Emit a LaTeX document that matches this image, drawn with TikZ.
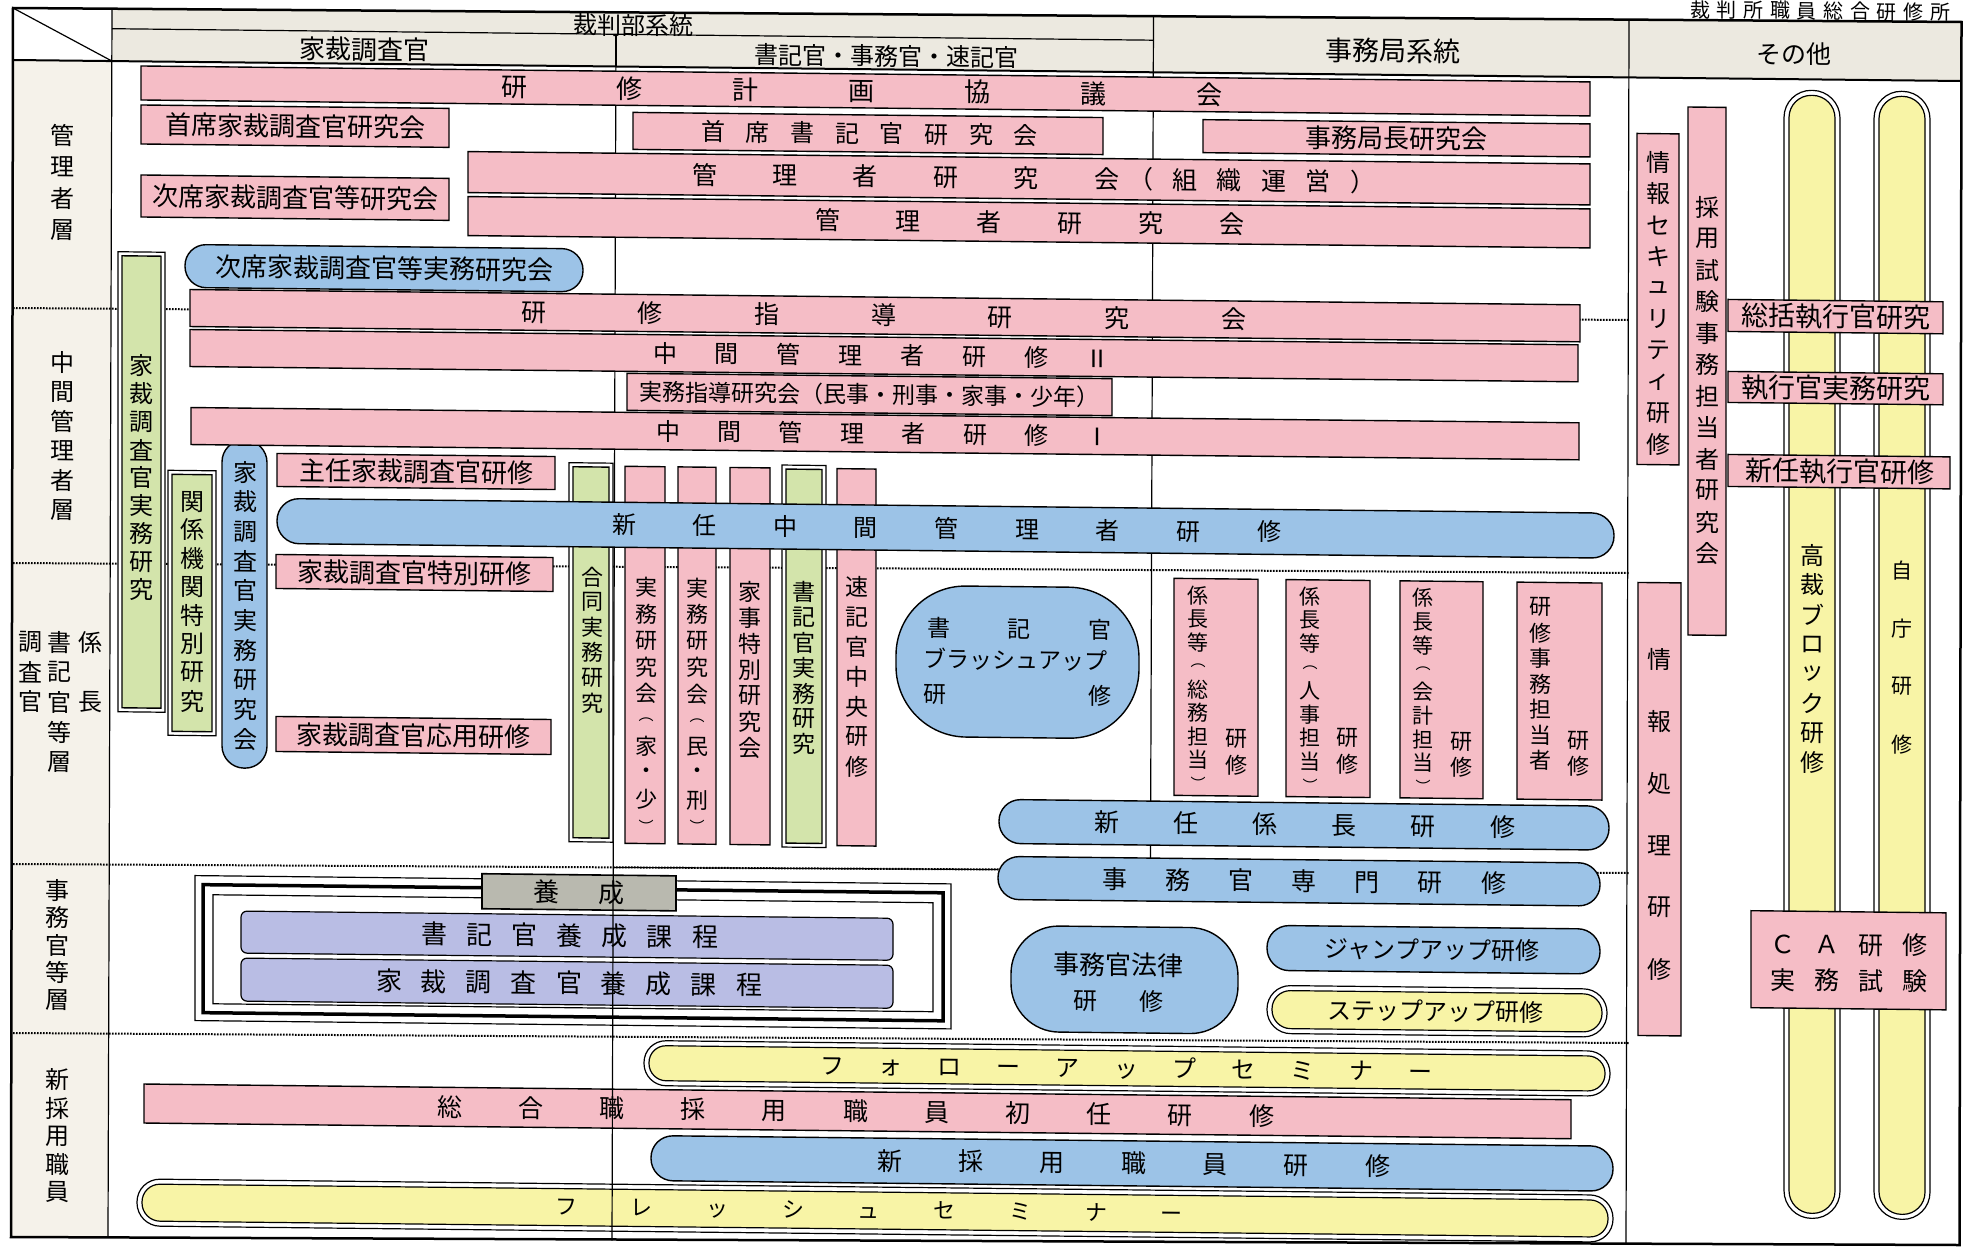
\documentclass[tikz,border=0pt]{standalone}
\usepackage{fontspec}
\newfontfamily\cjk{Noto Sans CJK JP}
\usetikzlibrary{fit}
\definecolor{pk}{HTML}{F5BDC6}
\definecolor{bl}{HTML}{9CC3E7}
\definecolor{gr}{HTML}{D3E4AB}
\definecolor{yl}{HTML}{F8F4A6}
\definecolor{lv}{HTML}{B9BDE4}
\definecolor{gy}{HTML}{B9B9AF}
\definecolor{hd}{HTML}{ECE9E0}
\definecolor{lc}{HTML}{F5F2EA}
\def\spfirst#1{#1\spaux}
\def\spaux#1{\ifx#1\relax\else\hfill#1\expandafter\spaux\fi}
\newcommand\spreadchars[1]{\spfirst#1\relax}
\newcommand\pfo{{\fontsize{15}{15}\selectfont ︵}}
\newcommand\pfc{{\fontsize{15}{15}\selectfont ︶}}
\newcommand\Sp[5]{\pgfmathsetmacro\sw{#2-#1}\node[font=\cjk\fontsize{#4}{#4}\selectfont] at ({(#1+#2)/2},#3) {\makebox[\sw pt][s]{\spreadchars{#5}}};}
\newcommand\Vt[5]{\foreach \vch [count=\vi from 0] in {#5} {\node[font=\cjk\fontsize{#4}{#4}\selectfont] at (#1,{#2+\vi*#3}) {\vch};}}
\newcommand\Tx[4]{\node[font=\cjk\fontsize{#3}{#3}\selectfont] at (#1,#2) {#4};}
\newcommand\Bx[6]{\node[#1,fit={(#3,#4)(#5,#6)}] (#2) {};}
\newcommand\Hp[6]{\pgfmathsetmacro\rr{0.49*(#6-#4)}\node[#1,rounded corners=\rr pt,fit={(#3,#4)(#5,#6)}] (#2) {};}
\newcommand\Vp[6]{\pgfmathsetmacro\rr{0.49*(#5-#3)}\node[#1,rounded corners=\rr pt,fit={(#3,#4)(#5,#6)}] (#2) {};}
\newcommand\Hpd[6]{\pgfmathsetmacro\rr{0.49*(#6-#4)}\node[dbl,rounded corners=\rr pt,fit={(#3,#4)(#5,#6)}] (#2) {};\pgfmathsetmacro\rr{0.49*(#6-#4)-5}\node[#1,rounded corners=\rr pt,fit={({#3+5},{#4+5})({#5-5},{#6-5})}] (#2i) {};}
\newcommand\Vpd[6]{\pgfmathsetmacro\rr{0.49*(#5-#3)}\node[dbl,rounded corners=\rr pt,fit={(#3,#4)(#5,#6)}] (#2) {};\pgfmathsetmacro\rr{0.49*(#5-#3)-5}\node[#1,rounded corners=\rr pt,fit={({#3+5},{#4+5})({#5-5},{#6-5})}] (#2i) {};}
\newcommand\Bxd[6]{\node[dbl,fit={(#3,#4)(#5,#6)}] (#2) {};\node[#1,fit={({#3+4},{#4+4})({#5-4},{#6-4})}] (#2i) {};}
\begin{document}
\begin{tikzpicture}[x=1pt,y=-1pt,line width=1.2pt,
  every node/.style={inner sep=0pt,outer sep=0pt},
  pkb/.style={draw,fill=pk,line width=1.4pt},
  blb/.style={draw,fill=bl,line width=1.4pt},
  grb/.style={draw,fill=gr,line width=1.4pt},
  ylb/.style={draw,fill=yl,line width=1.2pt},
  lvb/.style={draw,fill=lv,line width=1.2pt,rounded corners=6pt},
  gyb/.style={draw,fill=gy,line width=1.6pt},
  dbl/.style={draw,fill=white,line width=1.2pt},
  dots/.style={line width=2pt,dash pattern=on 1.6pt off 1.4pt}]
\useasboundingbox (0,0) rectangle (1965,1247);
\fill[white] (0,0) rectangle (1965,1247);
% frame corners (as scanned, slightly skewed)
\coordinate (TL) at (13,8);
\coordinate (TR) at (1961.5,22);
\coordinate (BR) at (1959.5,1245);
\coordinate (BL) at (11,1237);
\coordinate (hL) at (13,60);
\coordinate (hR) at (1961,81);
\fill[hd] (112,8.7) -- (TR) -- (hR) -- (112,61.1) -- cycle;
\fill[lc] (hL) -- (112,61.1) -- (108,1237.4) -- (BL) -- cycle;
% lines beneath boxes
\draw[dots] (13,308) -- (1629,320);
\draw[dots] (13,563) -- (1629,573);
\draw[dots] (13,864) -- (1629,873);
\draw[dots] (13,1033) -- (1629,1043);
\draw (616,34.3) -- (613.2,867);
\draw (1153.5,16.2) -- (1150.4,880);
\begin{scope}[transform canvas={yslant=-0.011,yshift=9.57pt}]
% header texts
\Tx{633}{28}{24}{裁判部系統}
\Tx{364}{55}{26}{家裁調査官}
\Tx{886}{56}{24}{書記官・事務官・速記官}
\Tx{1393}{45}{27}{事務局系統}
\Tx{1794}{44}{25}{その他}
\Sp{1690}{1950}{0.5}{20}{裁判所職員総合研修所}
% left labels
\Vt{62}{144}{31.7}{24}{管,理,者,層}
\Vt{62}{371}{29.6}{24}{中,間,管,理,者,層}
\Vt{90}{651}{60}{24}{係,長}
\Vt{59}{651}{30}{24}{書,記,官,等,層}
\Vt{30}{651}{30}{24}{調,査,官}
\Vt{57}{899}{27.5}{24}{事,務,官,等,層}
\Vt{57}{1089}{28}{24}{新,採,用,職,員}
% management layer
\Bx{pkb}{kk}{141}{74}{1590}{108}
\Sp{501}{1222}{91}{26}{研修計画協議会}
\Bx{pkb}{skc}{141}{113}{449}{152}
\Tx{295}{132.5}{26}{首席家裁調査官研究会}
\Bx{pkb}{ssk}{633}{115}{1103}{152}
\Sp{701}{1038}{133.5}{24}{首席書記官研究会}
\Bx{pkb}{jkc}{1203}{116}{1590}{149}
\Tx{1396}{132.5}{26}{事務局長研究会}
\Bx{pkb}{jkt}{141}{183}{449}{225}
\Tx{295}{204}{26}{次席家裁調査官等研究会}
\Bx{pkb}{kso}{468}{156}{1590}{197}
\Sp{692}{1119}{176.5}{25}{管理者研究会}
\Sp{1128}{1375}{176.5}{25}{（組織運営）}
\Bx{pkb}{kkk}{468}{201}{1590}{240}
\Sp{815}{1244}{220.5}{25}{管理者研究会}
\Hp{blb}{jjm}{185}{252}{583}{295}
\Tx{384}{273.5}{26}{次席家裁調査官等実務研究会}
% middle layer
\Bxd{grb}{gkj}{118}{260}{165}{720}
\Vt{141}{374}{28}{24}{家,裁,調,査,官,実,務,研,究}
\Bxd{grb}{gkt}{168}{478}{216}{743}
\Vt{192}{509}{28.5}{24}{関,係,機,関,特,別,研,究}
\Vp{blb}{bkj}{222}{447}{267}{775}
\Vt{245}{479}{29.7}{24}{家,裁,調,査,官,実,務,研,究,会}
\Bx{pkb}{ksd}{190}{297}{1580}{334}
\Sp{521}{1246}{315.5}{25}{研修指導研究会}
\Bx{pkb}{cm2}{190}{337}{1578}{374}
\Sp{653}{1110}{355.5}{24}{中間管理者研修Ⅱ}
\Bx{pkb}{jsd}{627}{376}{1112}{413}
\Tx{869.5}{394.5}{23}{実務指導研究会（民事・刑事・家事・少年）}
\Bx{pkb}{cm1}{191}{415}{1579}{452}
\Sp{656}{1110}{433.5}{24}{中間管理者研修Ⅰ}
\Bxd{grb}{gdj}{569}{466}{613}{845}
\Vt{592}{580}{25.2}{22}{合,同,実,務,研,究}
\Bx{pkb}{jk1}{625}{469}{665}{846}
\Vt{646}{590}{26.5}{22}{実,務,研,究,会,\pfo,家,・,少,\pfc}
\Bx{pkb}{jk2}{678}{469}{716}{846}
\Vt{697}{590}{26.5}{22}{実,務,研,究,会,\pfo,民,・,刑,\pfc}
\Bx{pkb}{kjt}{730}{469}{770}{846}
\Vt{750}{593}{26}{23}{家,事,特,別,研,究,会}
\Bxd{grb}{skj}{782}{466}{826}{848}
\Vt{804}{593}{25.3}{23}{書,記,官,実,務,研,究}
\Bx{pkb}{sok}{837}{469}{876}{846}
\Vt{857}{587}{30}{23}{速,記,官,中,央,研,修}
\Bx{pkb}{snk}{277}{460}{555}{493}
\Tx{416}{476.5}{26}{主任家裁調査官研修}
\Hp{blb}{scm}{277}{505}{1614}{550}
\Sp{612}{1281}{527.5}{24}{新任中間管理者研修}
% kakaricho layer
\Bx{pkb}{ktb}{276}{561}{553}{595}
\Tx{414.5}{578}{26}{家裁調査官特別研修}
\Bx{pkb}{kyo}{276}{723}{551}{758}
\Tx{413.5}{740.5}{26}{家裁調査官応用研修}
\node[draw,fill=bl,line width=1.4pt,rounded corners=70pt,fit={(896,585)(1139,736)}] (bru) {};
\Sp{927}{1111}{627}{23}{書記官}
\Sp{923}{1107}{658}{23}{ブラッシュアップ}
\Sp{923}{1111}{693}{23}{研修}
\Bx{pkb}{kc1}{1174}{575}{1258}{792}
\Vt{1198}{592}{23.5}{21}{係,長,等,\pfo,総,務,担,当,\pfc}
\Vt{1236}{735}{26}{22}{研,修}
\Bx{pkb}{kc2}{1286}{575}{1370}{792}
\Vt{1310}{592}{23.5}{21}{係,長,等,\pfo,人,事,担,当,\pfc}
\Vt{1347}{733}{26}{22}{研,修}
\Bx{pkb}{kc3}{1400}{575}{1483}{792}
\Vt{1423}{592}{23.5}{21}{係,長,等,\pfo,会,計,担,当,\pfc}
\Vt{1461}{735}{26}{22}{研,修}
\Bx{pkb}{kc4}{1517}{575}{1602}{792}
\Vt{1540}{600}{25.5}{22}{研,修,事,務,担,当,者}
\Vt{1578}{733}{25}{22}{研,修}
\Hp{blb}{skc2}{999}{798}{1609}{842}
\Sp{1094}{1515}{820}{25}{新任係長研修}
% jimukan layer
\Hp{blb}{jsm}{998}{855}{1600}{898}
\Sp{1102}{1506}{876.5}{25}{事務官専門研修}
\node[draw,fill=bl,line width=1.4pt,rounded corners=48pt,fit={(1011,924)(1238,1030)}] (jhr) {};
\Tx{1118}{962}{26}{事務官法律}
\Sp{1073}{1163}{998}{24}{研修}
\Hp{blb}{jmp}{1267}{921}{1600}{966}
\Tx{1432}{943.5}{24}{ジャンプアップ研修}
\Hpd{ylb}{stp}{1267}{981}{1607}{1029}
\Tx{1435}{1005}{24}{ステップアップ研修}
\draw[line width=1.2pt] (195,883) rectangle (951,1028);
\draw[line width=3.5pt] (203,892) rectangle (943,1020);
\draw[line width=1.2pt] (213,902) rectangle (933,1011);
\Bx{gyb}{yos}{482}{878}{676}{913}
\Sp{533}{625}{895.5}{26}{養成}
\Bx{lvb}{syk}{241}{918}{893}{960}
\Sp{421}{718}{939}{26}{書記官養成課程}
\Bx{lvb}{kyk}{241}{965}{893}{1008}
\Sp{376}{762}{986.5}{26}{家裁調査官養成課程}
% new recruits
\Hpd{ylb}{fol}{644}{1043}{1610}{1088}
\Sp{820}{1432}{1065.5}{24}{フォローアップセミナー}
\Bx{pkb}{sgs}{144}{1092}{1571}{1131}
\Sp{437}{1274}{1111.5}{25}{総合職採用職員初任研修}
\Hp{blb}{nsk}{651}{1138}{1613}{1183}
\Sp{877}{1390}{1160.5}{25}{新採用職員研修}
\Hpd{ylb}{frs}{137}{1187}{1613}{1234}
\Sp{555}{1183}{1210.5}{22}{フレッシュセミナー}
% other column
\Vpd{ylb}{kbk}{1784}{80}{1840}{1208}
\Vpd{ylb}{jck}{1874}{80}{1930}{1208}
\Vt{1812}{545}{29.6}{24}{高,裁,ブ,ロ,ッ,ク,研,修}
\Vt{1902}{559}{58}{21}{自,庁,研,修}
\Bx{pkb}{jsc}{1637}{125}{1679}{456}
\Vt{1658}{154}{31.3}{24}{情,報,セ,キ,ュ,リ,テ,ィ,研,修}
\Bx{pkb}{sys}{1688}{98}{1726}{626}
\Vt{1707}{198}{31.5}{24}{採,用,試,験,事,務,担,当,者,研,究,会}
\Bx{pkb}{skk}{1728}{290}{1943}{322}
\Tx{1836}{306}{27}{総括執行官研究}
\Bx{pkb}{sjk}{1728}{362}{1943}{393}
\Tx{1836}{377.5}{27}{執行官実務研究}
\Bx{pkb}{snsk}{1728}{445}{1950}{477}
\Tx{1840}{461}{27}{新任執行官研修}
\Bx{pkb}{jsr}{1638}{574}{1681}{1027}
\Vt{1659}{651}{62}{24}{情,報,処,理,研,修}
\Bx{pkb}{cak}{1751}{901}{1946}{998}
\Sp{1770}{1927}{934}{25}{ＣＡ研修}
\Sp{1770}{1927}{970}{25}{実務試験}
\end{scope}
% lines on top
\draw (613.2,867) -- (612,1240.6);
\draw (613.2,867.4) -- (998,869.5);
\draw (112,28.7) -- (1153.5,40.2);
\draw (TL) -- (112,61.1);
\draw (616,34.3) -- (616,66.5);
\draw (1153.5,16.2) -- (1153.5,72.3);
\draw (112,8.7) -- (108,1237.4);
\draw (1629,19.6) -- (1626,1243.6);
\draw[line width=2pt] (hL) -- (hR);
\draw[line width=2.5pt] (TL) -- (TR) -- (BR) -- (BL) -- cycle;
\end{tikzpicture}
\end{document}
